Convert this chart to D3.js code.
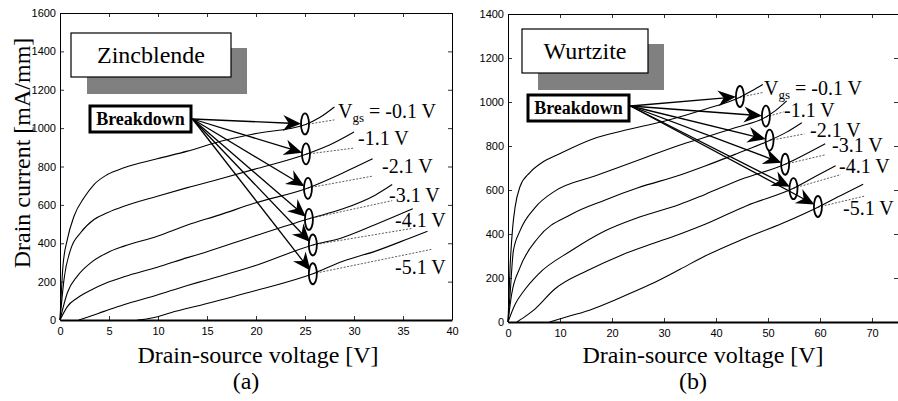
<!DOCTYPE html>
<html>
<head>
<meta charset="utf-8">
<script src="https://cdn.jsdelivr.net/npm/d3@7"></script>
<style>
  body { margin: 0; background: #fff; }
  svg { display: block; }
  .tick text { font-family: "Liberation Sans", Arial, sans-serif; font-size: 11px; fill: #000; }
  .serif { font-family: "Liberation Serif", "Times New Roman", serif; fill: #000; }
</style>
</head>
<body>
<div id="chart"></div>
<script>
// ---- data ----
var vgsLabels = ["-0.1", "-1.1", "-2.1", "-3.1", "-4.1", "-5.1"];

// (a) Zincblende: tick values
var zbTicksX = [0, 5, 10, 15, 20, 25, 30, 35, 40];
var zbTicksY = [0, 200, 400, 600, 800, 1000, 1200, 1400, 1600];

// (a) solid curves [V, mA]
var zb1 = [[0,0],[0.3,280],[0.75,420],[1.43,541],[2.45,637],[3.47,706],[4.83,758],[6.53,793],[9.93,840],[13,880],[16.3,930],[19.8,970],[25,1018],[26.5,1055],[28,1110]];
var zb2 = [[0,0],[0.41,212],[1.09,368],[2.1,455],[3.47,524],[4.83,559],[6.53,593],[9.93,645],[13,690],[16.3,735],[19.8,785],[25.1,864],[27.5,912],[30,980]];
var zb3 = [[0,0],[0.75,142],[1.77,229],[3.13,298],[4.83,351],[6.53,385],[9.93,437],[13,495],[16.3,548],[19.8,608],[25.3,688],[28.8,765],[31.9,840]];
var zb4 = [[0,0],[0.75,70],[1.77,115],[3.13,155],[4.83,195],[6.53,225],[9.93,275],[13,325],[14.7,351],[19.8,437],[25.4,528],[28.8,578],[32.2,652],[33.9,706]];
var zb5 = [[1.9,0],[3,18],[4.5,45],[6.5,80],[9.6,125],[13,180],[14.7,205],[19.8,281],[25.8,391],[28.8,429],[32.2,498],[36,580]];
var zb6 = [[7.9,0],[9.5,12],[11.3,38],[14.7,82],[19.8,151],[25.8,241],[28.8,305],[32.2,359],[35.6,425],[37.5,463]];
// (a) dashed continuations [V, mA]
var zbDash1 = [[25,1018],[28,1043]];
var zbDash2 = [[25.1,864],[30,896]];
var zbDash3 = [[25.3,688],[31.9,750]];
var zbDash4 = [[25.4,528],[33.9,622]];
var zbDash5 = [[25.8,391],[36,478]];
var zbDash6 = [[25.8,241],[37.9,368]];
// (a) breakdown marks
var zbBreakV = [25.0, 25.1, 25.3, 25.4, 25.8, 25.8];
var zbBreakI = [1022, 866, 686, 524, 391, 241];

// (b) Wurtzite: tick values
var wzTicksX = [0, 10, 20, 30, 40, 50, 60, 70];
var wzTicksY = [0, 200, 400, 600, 800, 1000, 1200, 1400];

// (b) solid curves [V, mA]
var wz1 = [[0,0],[0.4,250],[0.9,430],[1.35,520],[2.3,615],[4.2,679],[6.5,724],[9.7,762],[16.7,835],[21.9,868],[30.2,914],[37.9,967],[44.6,1022],[47,1052],[49,1080]];
var wz2 = [[0,0],[0.4,126],[1.03,323],[2.3,414],[5.2,520],[9,595],[16.7,664],[25,735],[33.1,805],[37.9,840],[44,885],[49.6,932],[51.5,962],[53.6,1005]];
var wz3 = [[0,0],[0.7,126],[2.3,247],[5.8,383],[12.2,490],[18.7,555],[25,610],[33.1,668],[37.9,709],[44,765],[50.3,825],[53.5,862],[56.5,906]];
var wz4 = [[0,0],[1.35,80],[3,140],[5.8,217],[12.2,325],[18.7,415],[25,475],[33.1,535],[37.9,580],[45,650],[53.3,717],[57,760],[61,810]];
var wz5 = [[1.7,0],[3,20],[5,55],[9,150],[15.4,235],[21.9,305],[28.3,360],[33.1,400],[37.9,444],[46,530],[54.9,608],[59,660],[63,710]];
var wz6 = [[8,0],[12,28],[15.8,55],[21,105],[27.3,170],[33.1,240],[37.9,300],[45,375],[52.9,450],[59.6,522],[64,575],[68.3,626]];
// (b) dashed continuations [V, mA]
var wzDash1 = [[44.6,1022],[49,1043]];
var wzDash2 = [[49.6,932],[53,955]];
var wzDash3 = [[50.3,825],[57,855]];
var wzDash4 = [[53.3,717],[61,760]];
var wzDash5 = [[54.9,608],[64,670]];
var wzDash6 = [[59.6,522],[68.7,573]];
// (b) breakdown marks
var wzBreakV = [44.6, 49.6, 50.3, 53.3, 54.9, 59.6];
var wzBreakI = [1025, 936, 827, 717, 606, 525];

// ---- drawing ----
var svg = d3.select("#chart")
  .append("svg")
    .attr("width", 898)
    .attr("height", 401);

function drawPanel(p) {
  var x = d3.scaleLinear().domain(p.xDomain).range([p.left, p.right]);
  var y = d3.scaleLinear().domain(p.yDomain).range([p.bottom, p.top]);

  var g = svg.append("g");

  // box (thin top and right)
  g.append("line").attr("x1", p.left + 0.5).attr("x2", x(p.xDomain[1]) + 0.5)
    .attr("y1", p.top + 0.5).attr("y2", p.top + 0.5).attr("stroke", "#000");
  g.append("line").attr("x1", x(p.xDomain[1]) + 0.5).attr("x2", x(p.xDomain[1]) + 0.5)
    .attr("y1", p.top).attr("y2", p.bottom).attr("stroke", "#000");

  // axes, ticks pointing inward like matlab
  g.append("g")
    .attr("transform", "translate(0," + p.bottom + ")")
    .call(d3.axisBottom(x).tickValues(p.ticksX).tickFormat(d3.format("d"))
      .tickSizeInner(-4).tickSizeOuter(0).tickPadding(7))
    .call(s => s.select(".domain").attr("stroke-width", 2));
  g.append("g")
    .attr("transform", "translate(" + p.left + ",0)")
    .call(d3.axisLeft(y).tickValues(p.ticksY).tickFormat(d3.format("d"))
      .tickSizeInner(-4).tickSizeOuter(0).tickPadding(4));
  g.append("g")
    .attr("transform", "translate(0," + p.top + ")")
    .call(d3.axisTop(x).tickValues(p.ticksX).tickSizeInner(-4).tickSizeOuter(0).tickFormat(""))
    .call(s => s.select(".domain").remove());
  g.append("g")
    .attr("transform", "translate(" + x(p.xDomain[1]) + ",0)")
    .call(d3.axisRight(y).tickValues(p.ticksY).tickSizeInner(-4).tickSizeOuter(0).tickFormat(""))
    .call(s => s.select(".domain").remove());
  g.selectAll(".tick line").attr("stroke-width", 0.8);

  var line = d3.line()
    .x(d => x(d[0]))
    .y(d => y(d[1]))
    .curve(d3.curveMonotoneX);

  // dashed continuations
  g.selectAll("path.dash")
    .data(p.dashes)
    .enter()
    .append("path")
    .attr("class", "dash")
    .attr("d", line)
    .attr("fill", "none")
    .attr("stroke", "#333")
    .attr("stroke-width", 0.8)
    .attr("stroke-dasharray", "2,1.5");

  // solid curves
  g.selectAll("path.curve")
    .data(p.curves)
    .enter()
    .append("path")
    .attr("class", "curve")
    .attr("d", line)
    .attr("fill", "none")
    .attr("stroke", "#000")
    .attr("stroke-width", 1.1);

  // material name box with grey shadow
  g.append("rect")
    .attr("x", p.nameBox[0] + 16).attr("y", p.nameBox[1] + 15)
    .attr("width", p.nameBox[2]).attr("height", p.nameBox[3] + 2)
    .attr("fill", "#808080");
  g.append("rect")
    .attr("x", p.nameBox[0]).attr("y", p.nameBox[1])
    .attr("width", p.nameBox[2]).attr("height", p.nameBox[3])
    .attr("fill", "#fff").attr("stroke", "#000").attr("stroke-width", 1.2);
  g.append("text")
    .attr("class", "serif")
    .attr("x", p.nameBox[0] + p.nameBox[2] / 2)
    .attr("y", p.nameBox[1] + p.nameBox[3] / 2 + 8)
    .attr("text-anchor", "middle")
    .style("font-size", "24px")
    .text(p.name);

  // breakdown box
  g.append("rect")
    .attr("x", p.bdBox[0]).attr("y", p.bdBox[1])
    .attr("width", p.bdBox[2]).attr("height", p.bdBox[3])
    .attr("fill", "#fff").attr("stroke", "#000").attr("stroke-width", 3);
  g.append("text")
    .attr("class", "serif")
    .attr("x", p.bdBox[0] + p.bdBox[2] / 2)
    .attr("y", p.bdBox[1] + p.bdBox[3] / 2 + 6)
    .attr("text-anchor", "middle")
    .style("font-size", "18px")
    .style("font-weight", "bold")
    .text("Breakdown");

  // arrows to the breakdown points
  var sx = p.bdBox[0] + p.bdBox[2] + 1.5, sy = p.bdStartY;
  p.breakV.forEach(function(v, i) {
    var cx = x(v), cy = y(p.breakI[i]);
    var dx = cx - sx, dy = cy - sy, len = Math.sqrt(dx * dx + dy * dy);
    var ux = dx / len, uy = dy / len;
    var tx = cx - ux * 4, ty = cy - uy * 4;
    var L = 18, W = 8;
    g.append("line")
      .attr("x1", sx).attr("y1", sy)
      .attr("x2", tx - ux * L * 0.6).attr("y2", ty - uy * L * 0.6)
      .attr("stroke", "#000").attr("stroke-width", 1.3);
    var bx = tx - ux * L, by = ty - uy * L;
    var nx = tx - ux * L * 0.68, ny = ty - uy * L * 0.68;
    g.append("path")
      .attr("d", "M" + tx + "," + ty +
        "L" + (bx - uy * W) + "," + (by + ux * W) +
        "L" + nx + "," + ny +
        "L" + (bx + uy * W) + "," + (by - ux * W) + "Z")
      .attr("fill", "#000");
  });

  // breakdown ellipses
  g.selectAll("ellipse")
    .data(p.breakV)
    .enter()
    .append("ellipse")
    .attr("cx", d => x(d))
    .attr("cy", (d, i) => y(p.breakI[i]))
    .attr("rx", 4)
    .attr("ry", 10.5)
    .attr("fill", "none")
    .attr("stroke", "#000")
    .attr("stroke-width", 1.8);

  // Vgs labels
  vgsLabels.forEach(function(lab, i) {
    var t = g.append("text")
      .attr("class", "serif")
      .attr("x", p.labelPos[i][0])
      .attr("y", p.labelPos[i][1])
      .style("font-size", "20px");
    if (i === 0) {
      t.append("tspan").text("V");
      t.append("tspan").attr("dy", 4).style("font-size", "13px").text("gs");
      t.append("tspan").attr("dy", -4).text(" = " + lab + " V");
    } else {
      t.text(lab + " V");
    }
  });

  // axis titles
  g.append("text")
    .attr("class", "serif")
    .attr("x", p.xTitle[0]).attr("y", p.xTitle[1])
    .attr("text-anchor", "middle")
    .style("font-size", "24px")
    .text("Drain-source voltage [V]");
  g.append("text")
    .attr("class", "serif")
    .attr("x", p.caption[0]).attr("y", p.caption[1])
    .attr("text-anchor", "middle")
    .style("font-size", "24px")
    .text(p.captionText);
  if (p.yTitle) {
    g.append("text")
      .attr("class", "serif")
      .attr("transform", "translate(" + p.yTitle[0] + "," + p.yTitle[1] + ")rotate(-90)")
      .attr("text-anchor", "middle")
      .style("font-size", "24px")
      .text("Drain current [mA/mm]");
  }
}

drawPanel({
  xDomain: [0, 40], yDomain: [0, 1600],
  left: 60, right: 452, bottom: 320, top: 13,
  ticksX: zbTicksX, ticksY: zbTicksY,
  curves: [zb1, zb2, zb3, zb4, zb5, zb6],
  dashes: [zbDash1, zbDash2, zbDash3, zbDash4, zbDash5, zbDash6],
  breakV: zbBreakV, breakI: zbBreakI,
  name: "Zincblende", nameBox: [71, 33, 160, 44],
  bdBox: [90, 106, 101, 26], bdStartY: 119,
  labelPos: [[338,118],[358,145],[382,173],[389,202],[395,227],[395,274]],
  xTitle: [258, 363], caption: [246, 389], captionText: "(a)",
  yTitle: [30, 153]
});

drawPanel({
  xDomain: [0, 75], yDomain: [0, 1400],
  left: 508, right: 898, bottom: 322, top: 14,
  ticksX: wzTicksX, ticksY: wzTicksY,
  curves: [wz1, wz2, wz3, wz4, wz5, wz6],
  dashes: [wzDash1, wzDash2, wzDash3, wzDash4, wzDash5, wzDash6],
  breakV: wzBreakV, breakI: wzBreakI,
  name: "Wurtzite", nameBox: [522, 29, 126, 44],
  bdBox: [528, 95, 101, 26], bdStartY: 106,
  labelPos: [[764,95],[784,117],[810,137],[832,152],[839,173],[843,215]],
  xTitle: [703, 363], caption: [693, 389], captionText: "(b)",
  yTitle: null
});
</script>
</body>
</html>
